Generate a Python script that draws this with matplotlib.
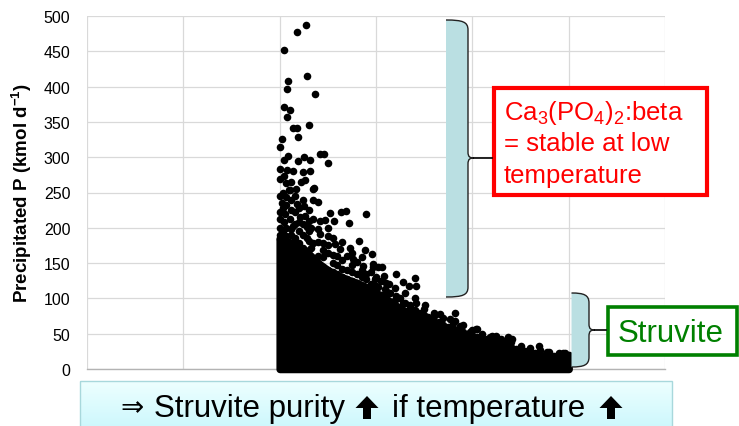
import matplotlib
matplotlib.use("Agg")
import matplotlib.pyplot as plt
import numpy as np
from matplotlib.path import Path
from matplotlib.patches import PathPatch, Rectangle, Polygon

plt.rcParams["font.family"] = ["Liberation Sans", "DejaVu Sans"]
plt.rcParams["mathtext.fontset"] = "custom"
plt.rcParams["mathtext.rm"] = "Liberation Sans"
plt.rcParams["mathtext.it"] = "Liberation Sans:italic"
plt.rcParams["mathtext.bf"] = "Liberation Sans:bold"

# solid part of the cloud: upper edge of the black mass (marker centres)
core_x = [2.0, 2.1, 2.2, 2.3, 2.4, 2.5, 2.6, 2.7, 2.8, 2.9, 3.0, 3.1, 3.2, 3.3,
          3.4, 3.5, 3.6, 3.7, 3.8, 3.9, 4.0, 4.1, 4.2, 4.3, 4.4, 4.5, 4.6, 4.7,
          4.8, 4.9, 5.0]
core_top = [185, 180, 172, 162, 150, 140, 133, 127, 122, 116, 108, 100, 90, 82,
            75, 68, 60, 55, 50, 45, 42, 38, 34, 30, 26, 22, 19, 17, 15, 13, 11]

# single points standing out of the solid part
pts_x = [2.27, 2.18, 2.045, 2.28, 2.09, 2.08, 2.37, 2.05, 2.11, 2.08, 2.14, 2.18,
         2.30, 2.02, 2.19, 2.00, 2.42, 2.46, 2.50, 2.045, 2.09, 2.19, 2.25, 2.31,
         2.00, 2.08, 2.14, 2.24, 2.32, 2.00, 2.04, 2.07, 2.12, 2.22, 2.26, 2.36,
         2.10, 2.17,
         2.11, 2.35, 2.02, 2.18, 2.25, 2.35, 2.40, 2.52, 2.64, 2.69, 2.90, 2.72,
         2.56, 2.47, 2.35, 2.42, 2.06, 2.11, 2.21, 2.26, 2.04, 2.14, 2.28, 2.82,
         2.89, 2.73, 2.42, 2.50, 2.57, 2.63, 2.28, 2.35, 2.45, 2.38, 2.76, 2.87,
         2.97, 3.02, 2.00, 2.06, 2.11, 2.18,
         2.96, 2.97, 3.06, 3.08, 2.99, 3.21, 3.40, 3.42, 3.34, 3.28, 3.13, 3.09,
         3.02, 3.21, 3.28, 3.35, 3.42, 3.51, 3.54, 3.61, 3.66, 3.77, 3.82, 3.82,
         3.87, 3.98, 4.05,
         4.04, 4.25, 4.37, 4.41, 4.34, 4.69, 4.51, 4.60, 4.77, 4.96, 4.15, 4.18,
         4.94, 5.00]
pts_y = [487, 478, 452, 415, 408, 396, 389, 371, 367, 357, 341, 341,
         346, 326, 328, 314, 305, 305, 292, 296, 301, 294, 300, 296,
         283, 282, 281, 279, 281, 269, 273, 263, 265, 265, 267, 257,
         254, 255,
         253, 255, 235, 234, 231, 239, 236, 221, 223, 224, 219, 207,
         210, 211, 213, 210, 220, 212, 215, 217, 208, 203, 201, 182,
         168, 172, 191, 189, 177, 170, 186, 179, 168, 156, 156, 146,
         144, 144, 184, 170, 160, 160,
         163, 149, 145, 132, 127, 135, 129, 117, 117, 123, 120, 113,
         116, 104, 94, 90, 94, 91, 73, 76, 78, 71, 80, 68,
         61, 52, 57,
         57, 47, 46, 42, 38, 32, 27, 25, 24, 23, 42, 45,
         22, 15]

# points crowding the rim of the solid part
rim_x = [2.00, 2.00, 2.00, 2.00, 2.00, 2.03, 2.03, 2.03, 2.07, 2.07, 2.07, 2.07,
         2.12, 2.12, 2.12, 2.12, 2.16, 2.16, 2.16, 2.16, 2.20, 2.20, 2.20, 2.20,
         2.24, 2.24, 2.24, 2.24, 2.30, 2.30, 2.30, 2.30, 2.30, 2.33, 2.33, 2.33,
         2.40, 2.40, 2.40, 2.40, 2.45, 2.45, 2.45, 2.50, 2.50, 2.50, 2.50,
         2.55, 2.55, 2.55, 2.55, 2.60, 2.60, 2.60, 2.65, 2.65, 2.65, 2.65,
         2.70, 2.70, 2.70, 2.75, 2.75, 2.75, 2.75, 2.80, 2.80, 2.80,
         2.85, 2.85, 2.85, 2.85, 2.90, 2.90, 2.90, 2.95, 2.95, 2.95,
         3.00, 3.00, 3.00, 3.05, 3.05, 3.10, 3.10, 3.10, 3.15, 3.15,
         3.20, 3.20, 3.20, 3.25, 3.25, 3.30, 3.30, 3.30, 3.35, 3.35,
         3.40, 3.40, 3.40, 3.45, 3.45, 3.50, 3.50, 3.50, 3.55, 3.55,
         3.60, 3.60, 3.60, 3.65, 3.65, 3.70, 3.70, 3.70, 3.75, 3.75,
         3.80, 3.80, 3.80, 3.85, 3.85, 3.90, 3.90, 3.90, 3.95, 3.95,
         4.00, 4.00, 4.00, 4.05, 4.05, 4.10, 4.10, 4.10, 4.15, 4.15,
         4.20, 4.20, 4.20, 4.25, 4.25, 4.30, 4.30, 4.30, 4.35, 4.35,
         4.40, 4.40, 4.40, 4.45, 4.45, 4.50, 4.50, 4.50, 4.55, 4.55,
         4.60, 4.60, 4.60, 4.65, 4.65, 4.70, 4.70, 4.70, 4.75, 4.75,
         4.80, 4.80, 4.80, 4.85, 4.85, 4.90, 4.90, 4.90, 4.95, 4.95,
         5.00, 5.00, 5.00]
rim_y = [190, 200, 212, 222, 245, 195, 228, 250, 188, 200, 232, 243,
         190, 198, 225, 240, 185, 205, 222, 245, 178, 195, 208, 228,
         172, 190, 205, 240, 168, 182, 195, 210, 225, 160, 172, 200,
         150, 160, 180, 198, 145, 158, 178, 140, 165, 175, 200,
         138, 150, 162, 185, 135, 147, 160, 130, 142, 155, 180,
         128, 140, 160, 125, 138, 148, 165, 122, 135, 152,
         118, 130, 140, 158, 115, 128, 135, 112, 120, 138,
         108, 118, 130, 105, 125, 100, 110, 122, 95, 108,
         90, 98, 115, 88, 100, 82, 93, 108, 78, 86,
         75, 84, 100, 72, 80, 68, 76, 85, 65, 72,
         60, 68, 80, 58, 66, 55, 62, 72, 52, 60,
         50, 58, 65, 48, 55, 45, 52, 62, 44, 50,
         42, 48, 55, 40, 46, 38, 44, 50, 36, 40,
         34, 40, 47, 32, 38, 30, 36, 42, 28, 33,
         26, 31, 38, 24, 29, 22, 27, 33, 21, 26,
         19, 24, 30, 18, 23, 17, 21, 27, 16, 20,
         15, 19, 24, 14, 18, 13, 17, 22, 12, 16,
         11, 15, 20]

y_ticks = list(range(0, 501, 50))
x_grid = list(range(0, 7))

fig = plt.figure(figsize=(7.39, 4.27), dpi=100)
ax = fig.add_axes([87 / 739, 57 / 427, 578 / 739, 353 / 427])

ax.fill_between(core_x, 0, core_top, facecolor="black", edgecolor="black",
                linewidth=5.4, joinstyle="round", zorder=3, clip_on=False)
ax.scatter(rim_x, rim_y, s=30, c="black", linewidths=0, zorder=3, clip_on=False)
ax.scatter(pts_x, pts_y, s=30, c="black", linewidths=0, zorder=3, clip_on=False)

ax.set_xlim(0, 6)
ax.set_ylim(0, 500)
ax.set_xticks(x_grid)
ax.set_yticks(y_ticks)
ax.set_xticklabels([])
ax.tick_params(length=0, labelsize=11.5, pad=12)
ax.grid(True, color="#d9d9d9", linewidth=0.9)
ax.set_axisbelow(True)
for s in ["top", "right", "left"]:
    ax.spines[s].set_visible(False)
ax.spines["bottom"].set_color("#b3b3b3")
ax.spines["bottom"].set_linewidth(1.0)
ax.set_ylabel(r"Precipitated P (kmol d$^{\mathbf{-1}}$)", fontsize=13.5,
              fontweight="bold", labelpad=7)

# overlay in pixel coordinates for the annotations
ov = fig.add_axes([0, 0, 1, 1])
ov.axis("off")
ov.patch.set_alpha(0)


def brace(left, right, top, bottom, mid, box_x):
    V = [(left, top), (right - 5, top), (right, top + 2), (right, top + 10),
         (right, mid - 6), (right, mid - 1), (right + 2, mid), (right + 6, mid),
         (right + 2, mid), (right, mid + 1), (right, mid + 6),
         (right, bottom - 10), (right, bottom - 2), (right - 5, bottom), (left, bottom)]
    C = [Path.MOVETO, Path.CURVE4, Path.CURVE4, Path.CURVE4, Path.LINETO,
         Path.CURVE4, Path.CURVE4, Path.CURVE4, Path.CURVE4, Path.CURVE4, Path.CURVE4,
         Path.LINETO, Path.CURVE4, Path.CURVE4, Path.CURVE4]
    ov.add_patch(PathPatch(Path(V + [(left, top)], C + [Path.CLOSEPOLY]),
                           facecolor="#badfe2", edgecolor="none"))
    ov.add_patch(PathPatch(Path(V, C), facecolor="none", edgecolor="#222222", lw=1.0))
    ov.plot([right + 6, box_x], [mid, mid], color="black", lw=1.2)


def up_arrow(cx, top, h=23, w=23, shaft=8, head=12):
    ov.add_patch(Polygon([(cx, top), (cx + w / 2, top + head), (cx + shaft / 2, top + head),
                          (cx + shaft / 2, top + h), (cx - shaft / 2, top + h),
                          (cx - shaft / 2, top + head), (cx - w / 2, top + head)],
                         closed=True, facecolor="black", edgecolor="none", zorder=3))


brace(446, 468, 21, 298, 159, 492)
brace(571.5, 589, 294, 368, 331, 606)

ov.add_patch(Rectangle((494, 89), 212.5, 106.5, facecolor="white",
                       edgecolor="#ff0000", lw=3))
red_lines = [r"Ca$_3$(PO$_4$)$_2$:beta", "= stable at low", "temperature"]
for i, line in enumerate(red_lines):
    ov.text(504, 120 + 31.5 * i, line, color="#ff0000", fontsize=18.5, va="baseline")

ov.add_patch(Rectangle((608, 307.5), 128.5, 48.5, facecolor="white",
                       edgecolor="#008000", lw=2.6))
ov.text(618, 342, "Struvite", color="#008000", fontsize=22.5, va="baseline")

grad = np.linspace(0, 1, 50)[:, None, None]
top_c = np.array([0.93, 1.0, 1.0])
bot_c = np.array([0.80, 0.97, 0.99])
img = (1 - grad) * top_c + grad * bot_c
ov.imshow(img, extent=(80, 672, 430, 382), origin="upper", aspect="auto", zorder=1)
ov.add_patch(Rectangle((80, 382), 592, 50, facecolor="none",
                       edgecolor="#a8d8dc", lw=1, zorder=2))
ov.text(120, 416, "\u21d2", fontsize=20, va="baseline", zorder=3,
        family=["DejaVu Sans"])
ov.text(154, 417, "Struvite purity", fontsize=22.5, va="baseline", zorder=3)
up_arrow(367, 397)
ov.text(392, 417, "if temperature", fontsize=22.5, va="baseline", zorder=3)
up_arrow(611, 397)

ov.set_xlim(0, 739)
ov.set_ylim(427, 0)

fig.savefig("out.png", dpi=100)
